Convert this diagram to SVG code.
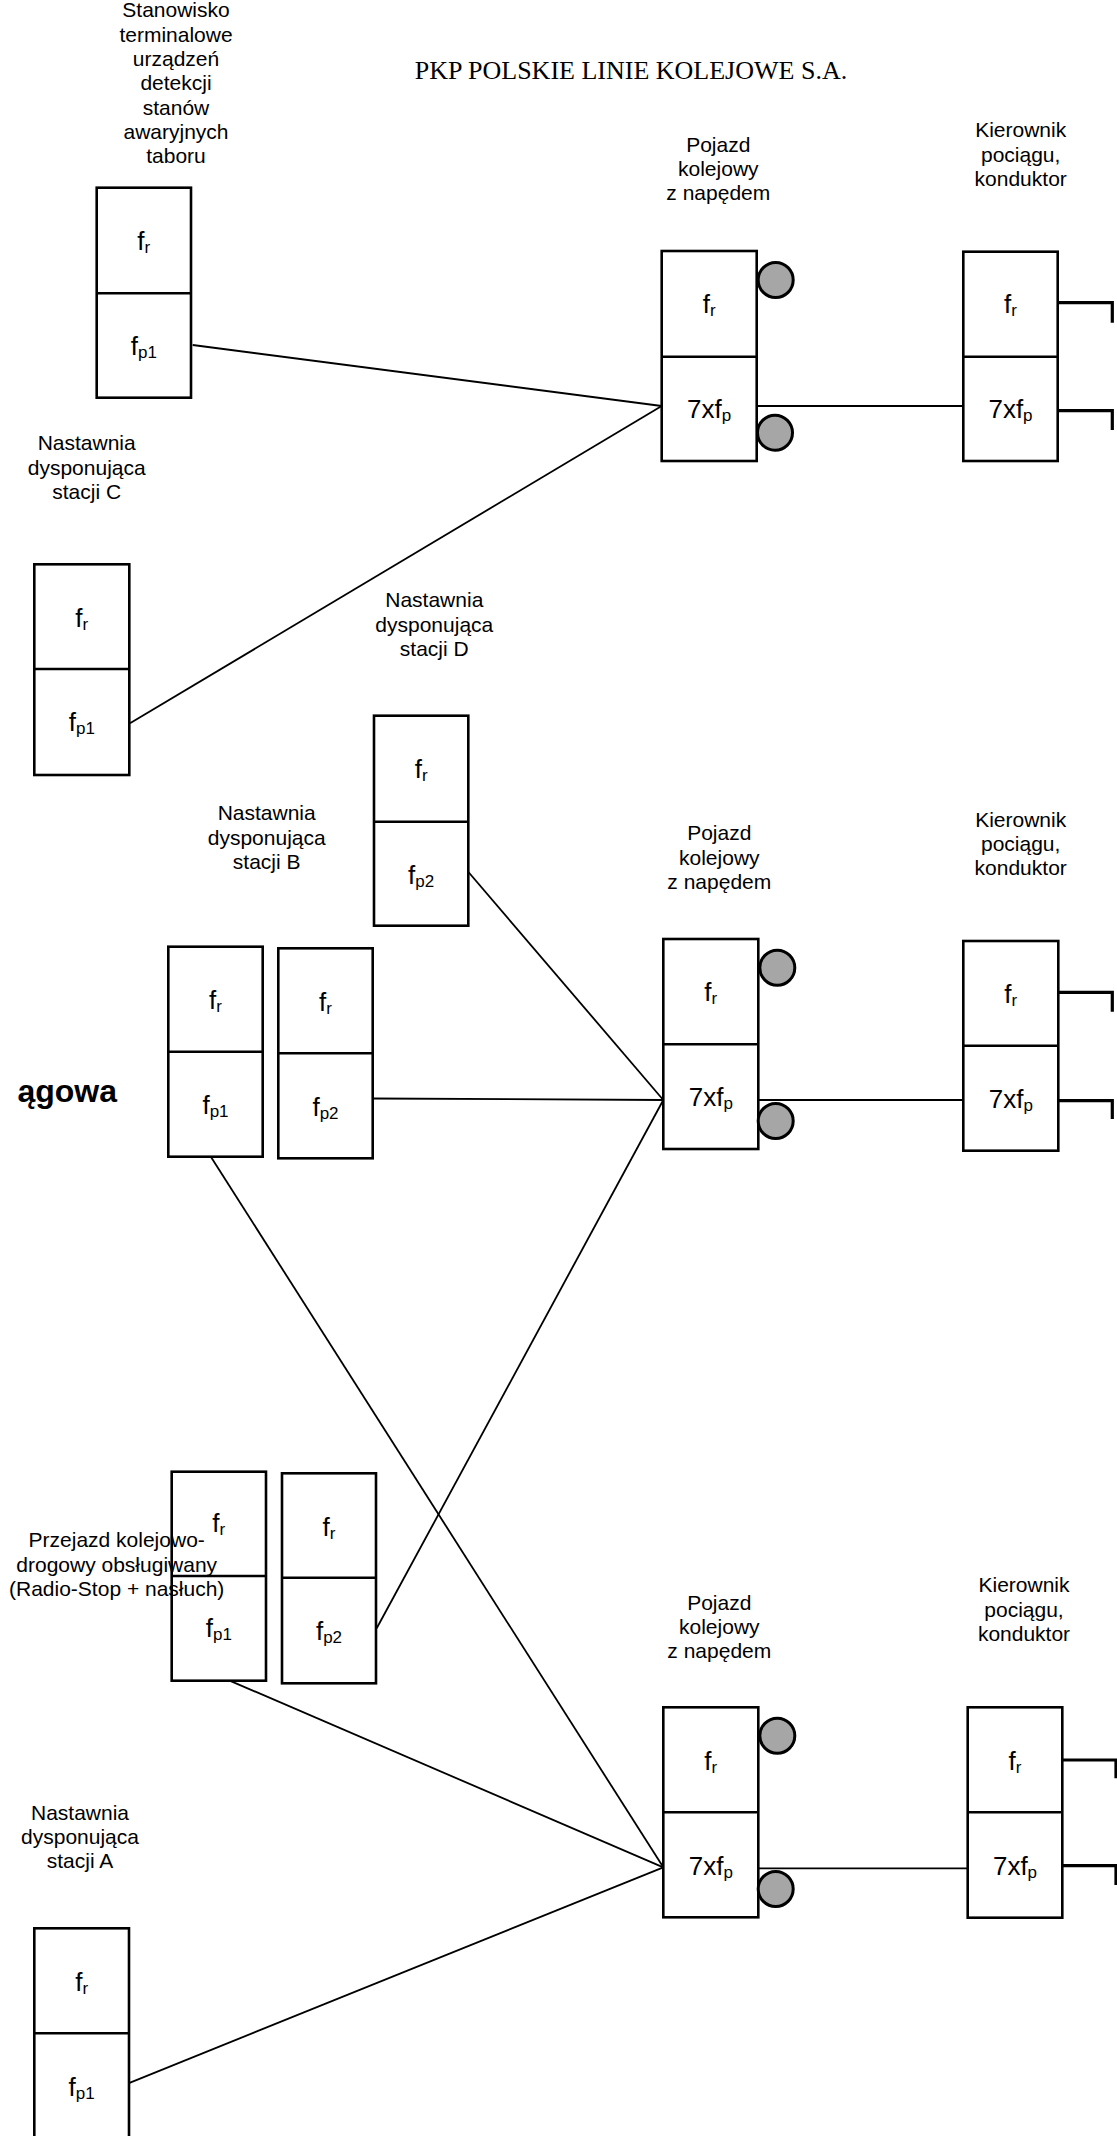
<svg xmlns="http://www.w3.org/2000/svg" width="1117" height="2136" viewBox="0 0 1117 2136">
<style>
.box{fill:#fff;stroke:#000;stroke-width:2.6}
.div{stroke:#000;stroke-width:2.6}
.lbl{font-family:"Liberation Sans",Arial,sans-serif;font-size:21px;text-anchor:middle;fill:#000}
.cell{font-family:"Liberation Sans",Arial,sans-serif;font-size:26px;text-anchor:middle;fill:#000}
.sub{font-size:17px}
.conn{stroke:#000;stroke-width:1.8;fill:none}
.hook{stroke:#000;stroke-width:3.2;fill:none}
.wheel{fill:#a6a6a6;stroke:#000;stroke-width:3}
.title{font-family:"Liberation Serif","Times New Roman",serif;font-size:26px;text-anchor:middle;fill:#000}
.big{font-family:"Liberation Sans",Arial,sans-serif;font-size:32px;font-weight:bold;text-anchor:end;fill:#000}
</style>
<rect width="1117" height="2136" fill="#fff"/>
<text class="title" x="631" y="79">PKP POLSKIE LINIE KOLEJOWE S.A.</text>
<text class="big" x="117" y="1102">ągowa</text>

<g id="connectors">
<line class="conn" x1="192.7" y1="345" x2="661.7" y2="406"/>
<line class="conn" x1="130" y1="723.3" x2="661.7" y2="406"/>
<line class="conn" x1="756.7" y1="406" x2="963.3" y2="406"/>
<line class="conn" x1="466.7" y1="870" x2="663.3" y2="1100"/>
<line class="conn" x1="372.7" y1="1098.5" x2="663.3" y2="1100"/>
<line class="conn" x1="376.7" y1="1628.3" x2="663.3" y2="1100"/>
<line class="conn" x1="758.3" y1="1100" x2="963.3" y2="1100"/>
<line class="conn" x1="211" y1="1157" x2="663.3" y2="1867.3"/>
<line class="conn" x1="226.7" y1="1679.3" x2="663.3" y2="1867.3"/>
<line class="conn" x1="128.3" y1="2083.3" x2="663.3" y2="1867.3"/>
<line class="conn" x1="758.3" y1="1868.3" x2="967.7" y2="1868.3"/>
</g>

<g id="stanowisko">
<rect class="box" x="96.7" y="187.7" width="94.3" height="210"/>
<line class="div" x1="96.7" y1="293.3" x2="191" y2="293.3"/>
<text class="cell" x="143.8" y="250">f<tspan class="sub" dy="3">r</tspan></text>
<text class="cell" x="143.8" y="355">f<tspan class="sub" dy="3">p1</tspan></text>
<text class="lbl" x="176"><tspan x="176" y="17.3">Stanowisko</tspan><tspan x="176" y="41.6">terminalowe</tspan><tspan x="176" y="65.9">urządzeń</tspan><tspan x="176" y="90.2">detekcji</tspan><tspan x="176" y="114.5">stanów</tspan><tspan x="176" y="138.8">awaryjnych</tspan><tspan x="176" y="163.1">taboru</tspan></text>
</g>

<g id="nastawnia-c">
<rect class="box" x="34.3" y="564.3" width="95" height="210.7"/>
<line class="div" x1="34.3" y1="669" x2="129.3" y2="669"/>
<text class="cell" x="81.8" y="626.5">f<tspan class="sub" dy="3">r</tspan></text>
<text class="cell" x="81.8" y="731">f<tspan class="sub" dy="3">p1</tspan></text>
<text class="lbl"><tspan x="86.7" y="450">Nastawnia</tspan><tspan x="86.7" y="474.5">dysponująca</tspan><tspan x="86.7" y="499">stacji C</tspan></text>
</g>

<g id="nastawnia-d">
<rect class="box" x="374" y="715.7" width="94.3" height="210"/>
<line class="div" x1="374" y1="821.7" x2="468.3" y2="821.7"/>
<text class="cell" x="421.2" y="778">f<tspan class="sub" dy="3">r</tspan></text>
<text class="cell" x="421.2" y="883.5">f<tspan class="sub" dy="3">p2</tspan></text>
<text class="lbl"><tspan x="434.3" y="606.7">Nastawnia</tspan><tspan x="434.3" y="631.5">dysponująca</tspan><tspan x="434.3" y="656">stacji D</tspan></text>
</g>

<g id="nastawnia-b">
<rect class="box" x="168.3" y="946.7" width="94.4" height="210"/>
<line class="div" x1="168.3" y1="1051.7" x2="262.7" y2="1051.7"/>
<text class="cell" x="215.5" y="1009">f<tspan class="sub" dy="3">r</tspan></text>
<text class="cell" x="215.5" y="1114">f<tspan class="sub" dy="3">p1</tspan></text>
<rect class="box" x="278.3" y="948.3" width="94.4" height="210"/>
<line class="div" x1="278.3" y1="1053.3" x2="372.7" y2="1053.3"/>
<text class="cell" x="325.5" y="1010.5">f<tspan class="sub" dy="3">r</tspan></text>
<text class="cell" x="325.5" y="1115.5">f<tspan class="sub" dy="3">p2</tspan></text>
<text class="lbl"><tspan x="266.7" y="820">Nastawnia</tspan><tspan x="266.7" y="844.5">dysponująca</tspan><tspan x="266.7" y="869">stacji B</tspan></text>
</g>

<g id="przejazd">
<rect class="box" x="171.7" y="1471.7" width="94.3" height="209"/>
<line class="div" x1="171.7" y1="1576" x2="266" y2="1576"/>
<text class="cell" x="218.8" y="1532">f<tspan class="sub" dy="3">r</tspan></text>
<text class="cell" x="218.8" y="1637">f<tspan class="sub" dy="3">p1</tspan></text>
<rect class="box" x="282" y="1473.3" width="94" height="210"/>
<line class="div" x1="282" y1="1577.7" x2="376" y2="1577.7"/>
<text class="cell" x="329" y="1535.5">f<tspan class="sub" dy="3">r</tspan></text>
<text class="cell" x="329" y="1640">f<tspan class="sub" dy="3">p2</tspan></text>
<text class="lbl"><tspan x="116.7" y="1547.3">Przejazd kolejowo-</tspan><tspan x="116.7" y="1571.7">drogowy obsługiwany</tspan><tspan x="116.7" y="1596">(Radio-Stop + nasłuch)</tspan></text>
</g>

<g id="nastawnia-a">
<rect class="box" x="34.3" y="1928.3" width="94.7" height="210"/>
<line class="div" x1="34.3" y1="2033.3" x2="129" y2="2033.3"/>
<text class="cell" x="81.7" y="1990.5">f<tspan class="sub" dy="3">r</tspan></text>
<text class="cell" x="81.7" y="2095.5">f<tspan class="sub" dy="3">p1</tspan></text>
<text class="lbl"><tspan x="80" y="1820">Nastawnia</tspan><tspan x="80" y="1844.3">dysponująca</tspan><tspan x="80" y="1868.3">stacji A</tspan></text>
</g>

<g id="pojazd-1">
<rect class="box" x="661.7" y="251" width="95" height="210"/>
<line class="div" x1="661.7" y1="356.7" x2="756.7" y2="356.7"/>
<text class="cell" x="709.2" y="313">f<tspan class="sub" dy="3">r</tspan></text>
<text class="cell" x="709.2" y="418">7xf<tspan class="sub" dy="3">p</tspan></text>
<circle class="wheel" cx="775.7" cy="280" r="17.5"/>
<circle class="wheel" cx="775" cy="432.7" r="17.5"/>
<text class="lbl"><tspan x="718.3" y="152">Pojazd</tspan><tspan x="718.3" y="176">kolejowy</tspan><tspan x="718.3" y="200">z napędem</tspan></text>
</g>

<g id="kierownik-1">
<rect class="box" x="963.3" y="251.7" width="94.4" height="209.3"/>
<line class="div" x1="963.3" y1="356.7" x2="1057.7" y2="356.7"/>
<text class="cell" x="1010.5" y="313">f<tspan class="sub" dy="3">r</tspan></text>
<text class="cell" x="1010.5" y="418">7xf<tspan class="sub" dy="3">p</tspan></text>
<polyline class="hook" points="1057.7,302.7 1112.3,302.7 1112.3,322.7"/>
<polyline class="hook" points="1057.7,410.7 1112.3,410.7 1112.3,430"/>
<text class="lbl"><tspan x="1020.7" y="137.3">Kierownik</tspan><tspan x="1020.7" y="161.7">pociągu,</tspan><tspan x="1020.7" y="186">konduktor</tspan></text>
</g>

<g id="pojazd-2">
<rect class="box" x="663.3" y="939" width="95" height="210"/>
<line class="div" x1="663.3" y1="1044.3" x2="758.3" y2="1044.3"/>
<text class="cell" x="710.8" y="1001">f<tspan class="sub" dy="3">r</tspan></text>
<text class="cell" x="710.8" y="1106">7xf<tspan class="sub" dy="3">p</tspan></text>
<circle class="wheel" cx="777.3" cy="967.7" r="17.5"/>
<circle class="wheel" cx="775.7" cy="1121" r="17.5"/>
<text class="lbl"><tspan x="719.3" y="840">Pojazd</tspan><tspan x="719.3" y="864.5">kolejowy</tspan><tspan x="719.3" y="889">z napędem</tspan></text>
</g>

<g id="kierownik-2">
<rect class="box" x="963.3" y="941" width="95" height="209.7"/>
<line class="div" x1="963.3" y1="1045.7" x2="1058.3" y2="1045.7"/>
<text class="cell" x="1010.8" y="1003">f<tspan class="sub" dy="3">r</tspan></text>
<text class="cell" x="1010.8" y="1108">7xf<tspan class="sub" dy="3">p</tspan></text>
<polyline class="hook" points="1058.3,992.3 1112.3,992.3 1112.3,1011.7"/>
<polyline class="hook" points="1058.3,1100.7 1112.3,1100.7 1112.3,1119"/>
<text class="lbl"><tspan x="1020.7" y="826.7">Kierownik</tspan><tspan x="1020.7" y="851">pociągu,</tspan><tspan x="1020.7" y="875">konduktor</tspan></text>
</g>

<g id="pojazd-3">
<rect class="box" x="663.3" y="1707.3" width="95" height="210"/>
<line class="div" x1="663.3" y1="1812.3" x2="758.3" y2="1812.3"/>
<text class="cell" x="710.8" y="1769.5">f<tspan class="sub" dy="3">r</tspan></text>
<text class="cell" x="710.8" y="1874.5">7xf<tspan class="sub" dy="3">p</tspan></text>
<circle class="wheel" cx="777.3" cy="1735.7" r="17.5"/>
<circle class="wheel" cx="775.7" cy="1889" r="17.5"/>
<text class="lbl"><tspan x="719.3" y="1610">Pojazd</tspan><tspan x="719.3" y="1634">kolejowy</tspan><tspan x="719.3" y="1658.3">z napędem</tspan></text>
</g>

<g id="kierownik-3">
<rect class="box" x="967.7" y="1707.3" width="94.6" height="210.4"/>
<line class="div" x1="967.7" y1="1812.3" x2="1062.3" y2="1812.3"/>
<text class="cell" x="1015" y="1769.5">f<tspan class="sub" dy="3">r</tspan></text>
<text class="cell" x="1015" y="1874.5">7xf<tspan class="sub" dy="3">p</tspan></text>
<polyline class="hook" points="1062.3,1760 1116,1760 1116,1778.3"/>
<polyline class="hook" points="1062.3,1865.7 1116,1865.7 1116,1885"/>
<text class="lbl"><tspan x="1024" y="1592.3">Kierownik</tspan><tspan x="1024" y="1616.7">pociągu,</tspan><tspan x="1024" y="1641">konduktor</tspan></text>
</g>
</svg>
